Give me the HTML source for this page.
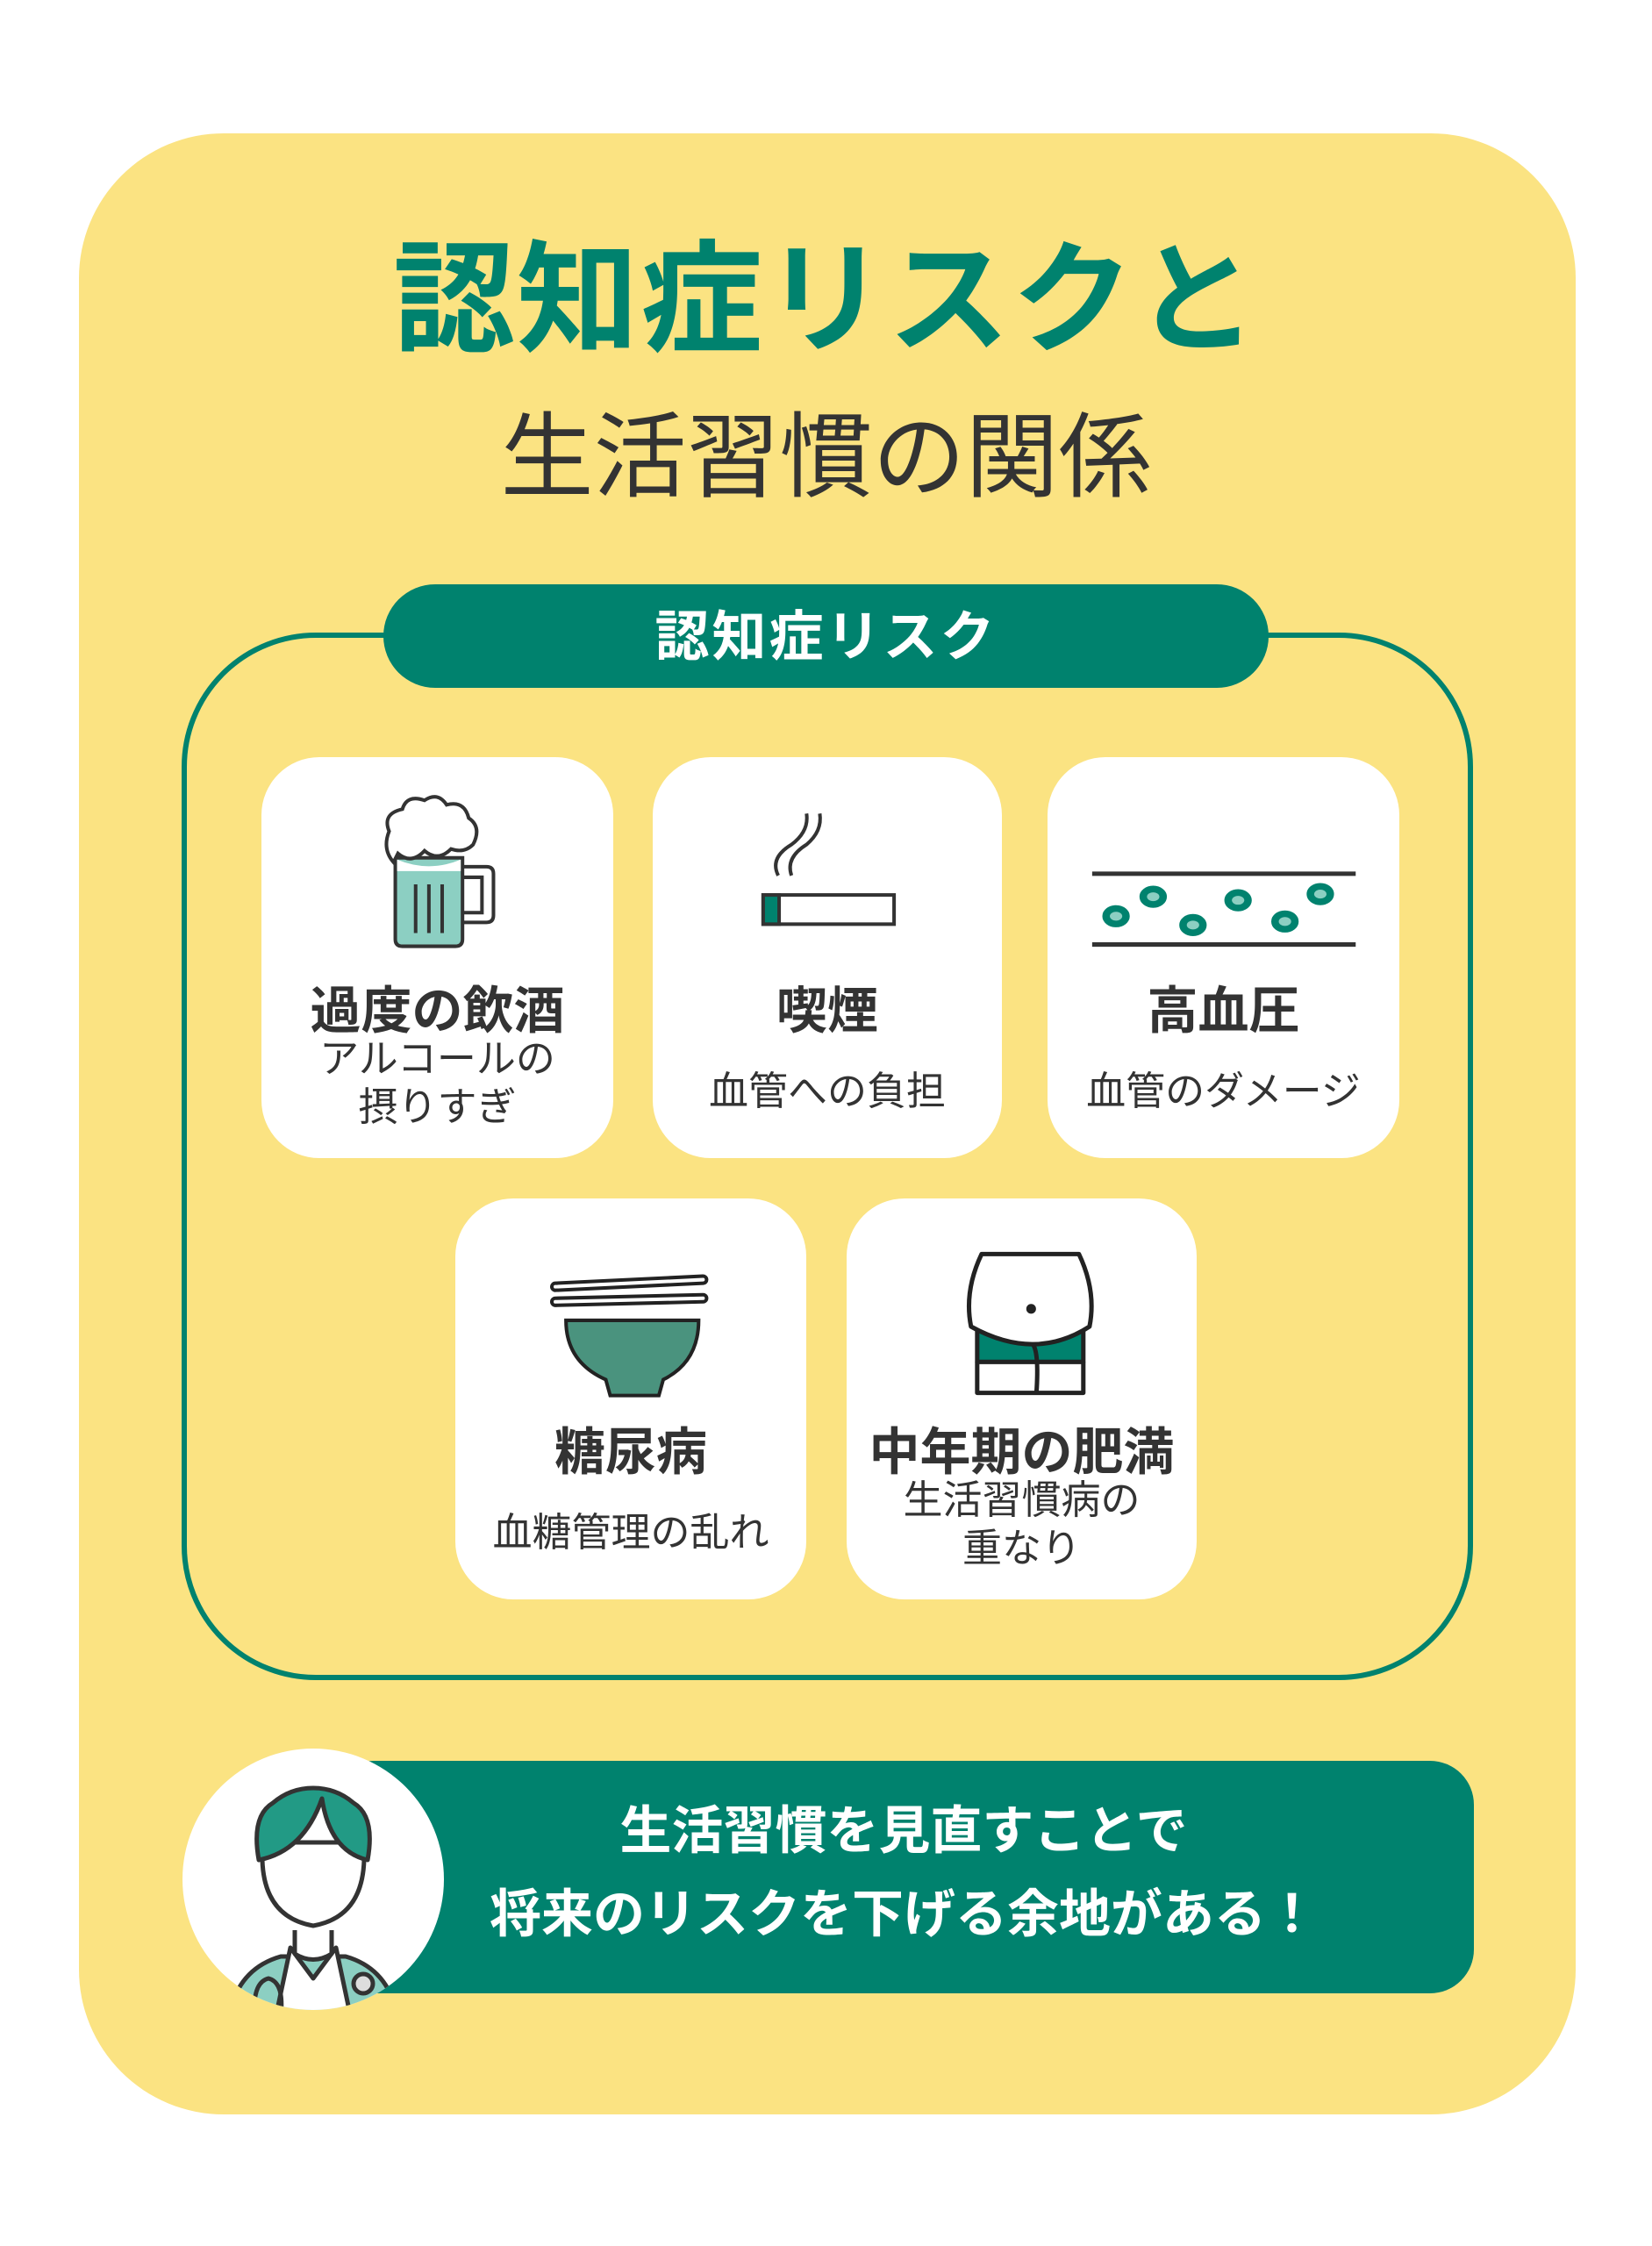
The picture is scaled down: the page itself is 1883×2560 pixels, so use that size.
<!DOCTYPE html>
<html><head><meta charset="utf-8"><style>
html,body{margin:0;padding:0;background:#fff}
body{width:1883px;height:2560px;position:relative;overflow:hidden;font-family:"Liberation Sans","Noto Sans CJK JP",sans-serif}
.t{position:absolute;left:0;width:1883px;text-align:center;white-space:nowrap}
.card{position:absolute;background:#fff;border-radius:66px}
.ct{position:absolute;left:0;right:0;text-align:center;white-space:nowrap;color:#333}
</style></head><body>
<svg width="1883" height="2560" style="position:absolute;left:0;top:0">
<rect x="90" y="152" width="1706" height="2258" rx="165" fill="#FBE382"/>
<rect x="210" y="724" width="1466" height="1188" rx="150" fill="none" stroke="#00826E" stroke-width="6"/>
<rect x="437" y="666" width="1009" height="118" rx="59" fill="#00826E"/>
<rect x="376" y="2007" width="1304" height="265" rx="50" fill="#00826E"/>
<circle cx="357" cy="2142" r="149" fill="#fff"/>
<clipPath id="cc"><circle cx="357" cy="2142" r="149"/></clipPath>
<g clip-path="url(#cc)" stroke="#333" stroke-width="5" stroke-linejoin="round">
<path d="M260 2305 Q268 2245 320 2230 L394 2230 Q446 2245 454 2305 Z" fill="#8CCFC2"/>
<path d="M331 2220 L357 2255 L383 2220 L401 2305 L313 2305 Z" fill="#fff"/>
<path d="M336 2200 L336 2227 Q357 2240 378 2227 L378 2200" fill="#fff"/>
<path d="M299 2120 Q301 2185 357 2195 Q413 2185 415 2120 L415 2100 L299 2100 Z" fill="#fff"/>
<path d="M295 2120 Q286 2070 311 2055 Q331 2038 357 2038 Q383 2038 403 2055 Q428 2070 419 2120 Q376 2110 367 2050 Q346 2110 295 2120 Z" fill="#229A85"/>
<circle cx="414" cy="2261" r="11" fill="#ddd"/>
<path d="M291 2305 Q286 2260 306 2255 Q326 2260 319 2305" fill="none"/>
</g>
</svg>
<div class="t" style="top:268px;font-size:139px;font-weight:bold;color:#00826E;line-height:150px;letter-spacing:2px">認知症リスクと</div>
<div class="t" style="top:460px;font-size:106px;color:#333;line-height:124px">生活習慣の関係</div>
<div class="t" style="top:689px;font-size:62px;font-weight:bold;color:#fff;line-height:76px;letter-spacing:3px">認知症リスク</div>

<div class="card" style="left:298px;top:863px;width:401px;height:457px">
<div class="ct" style="top:242px;font-size:58px;font-weight:bold">過度の飲酒</div>
<div class="ct" style="top:316px;font-size:45px;line-height:55px">アルコールの<br>摂りすぎ</div></div>
<div class="card" style="left:744px;top:863px;width:398px;height:457px">
<div class="ct" style="top:242px;font-size:58px;font-weight:bold">喫煙</div>
<div class="ct" style="top:344px;font-size:45px">血管への負担</div></div>
<div class="card" style="left:1194px;top:863px;width:401px;height:457px">
<div class="ct" style="top:242px;font-size:58px;font-weight:bold">高血圧</div>
<div class="ct" style="top:344px;font-size:45px">血管のダメージ</div></div>
<div class="card" style="left:519px;top:1366px;width:400px;height:457px">
<div class="ct" style="top:242px;font-size:58px;font-weight:bold">糖尿病</div>
<div class="ct" style="top:344px;font-size:45px">血糖管理の乱れ</div></div>
<div class="card" style="left:965px;top:1366px;width:399px;height:457px">
<div class="ct" style="top:242px;font-size:58px;font-weight:bold">中年期の肥満</div>
<div class="ct" style="top:316px;font-size:45px;line-height:55px">生活習慣病の<br>重なり</div></div>

<svg width="1883" height="2560" style="position:absolute;left:0;top:0">
<g transform="scale(1.008)">
<g stroke="#333" stroke-width="4" fill="#fff">
<path d="M447 970 L447 1062 Q447 1070 455 1070 L515 1070 Q523 1070 523 1062 L523 970 Z" fill="#8CCFC2"/>
<path d="M449 972 Q485 987 521 972 L521 985 L449 985 Z" fill="#fff" stroke="none"/>
<path d="M523 980 L550 980 Q558 980 558 988 L558 1035 Q558 1043 550 1043 L523 1043" fill="none"/>
<path d="M523 992 L545 992 L545 1032 L523 1032" fill="none"/>
<path d="M445 975 Q432 960 440 940 Q432 920 455 915 Q460 898 480 905 Q495 895 505 910 Q525 905 530 925 Q545 935 535 955 Q525 965 510 960 Q495 975 480 962 Q465 978 450 965 Z"/>
<path d="M470 1000 V1055 M485 1000 V1055 M500 1000 V1055" fill="none"/>
</g>
<g stroke="#333" stroke-width="4" fill="none">
<rect x="863" y="1012" width="148" height="33" fill="#fff"/>
<rect x="863" y="1012" width="18" height="33" fill="#00826E"/>
<path d="M880 990 Q870 970 895 955 Q915 940 912 920"/>
<path d="M895 990 Q888 970 912 955 Q930 940 927 920"/>
</g>
<g stroke="#333" stroke-width="5" fill="#00826E">
<line x1="1235" y1="988" x2="1533" y2="988"/>
<line x1="1235" y1="1068" x2="1533" y2="1068"/>
<g stroke="#00826E" stroke-width="3"><ellipse cx="1262" cy="1036" rx="14" ry="11"/><ellipse cx="1304" cy="1014" rx="14" ry="11"/><ellipse cx="1349" cy="1046" rx="14" ry="11"/><ellipse cx="1400" cy="1018" rx="14" ry="11"/><ellipse cx="1453" cy="1042" rx="14" ry="11"/><ellipse cx="1493" cy="1011" rx="14" ry="11"/></g>
<g fill="#8CCFC2" stroke="none"><ellipse cx="1262" cy="1036" rx="7" ry="5"/><ellipse cx="1304" cy="1014" rx="7" ry="5"/><ellipse cx="1349" cy="1046" rx="7" ry="5"/><ellipse cx="1400" cy="1018" rx="7" ry="5"/><ellipse cx="1453" cy="1042" rx="7" ry="5"/><ellipse cx="1493" cy="1011" rx="7" ry="5"/></g>
</g>
<g stroke="#222" stroke-width="4">
<path d="M628 1455 L795 1447" stroke-width="12" stroke-linecap="round"/>
<path d="M628 1455 L795 1447" stroke="#fff" stroke-width="4" stroke-linecap="round"/>
<path d="M628 1472 L795 1468" stroke-width="12" stroke-linecap="round"/>
<path d="M628 1472 L795 1468" stroke="#fff" stroke-width="4" stroke-linecap="round"/>
<path d="M640 1493 L790 1493 Q790 1540 750 1560 L745 1578 L690 1578 L685 1560 Q640 1540 640 1493 Z" fill="#4A937E"/>
</g>
<g stroke="#222" stroke-width="5" stroke-linejoin="round">
<path d="M1105 1540 L1105 1575 L1225 1575 L1225 1540" fill="#fff"/>
<path d="M1105 1505 L1225 1505 L1225 1540 L1105 1540 Z" fill="#00826E"/>
<path d="M1110 1418 L1220 1418 Q1240 1460 1232 1500 Q1170 1540 1098 1500 Q1090 1460 1110 1418 Z" fill="#fff"/>
<circle cx="1166" cy="1480" r="3" fill="#222"/>
<path d="M1168 1520 Q1175 1530 1172 1575" fill="none"/>
</g>
</g>
</svg>

<div class="t" style="left:530px;width:1000px;top:2052px;font-size:59px;color:#fff;line-height:70px;font-weight:bold">生活習慣を見直すことで</div>
<div class="t" style="left:530px;width:1000px;top:2147px;font-size:59px;color:#fff;line-height:70px;font-weight:bold">将来のリスクを下げる余地がある！</div>
</body></html>
